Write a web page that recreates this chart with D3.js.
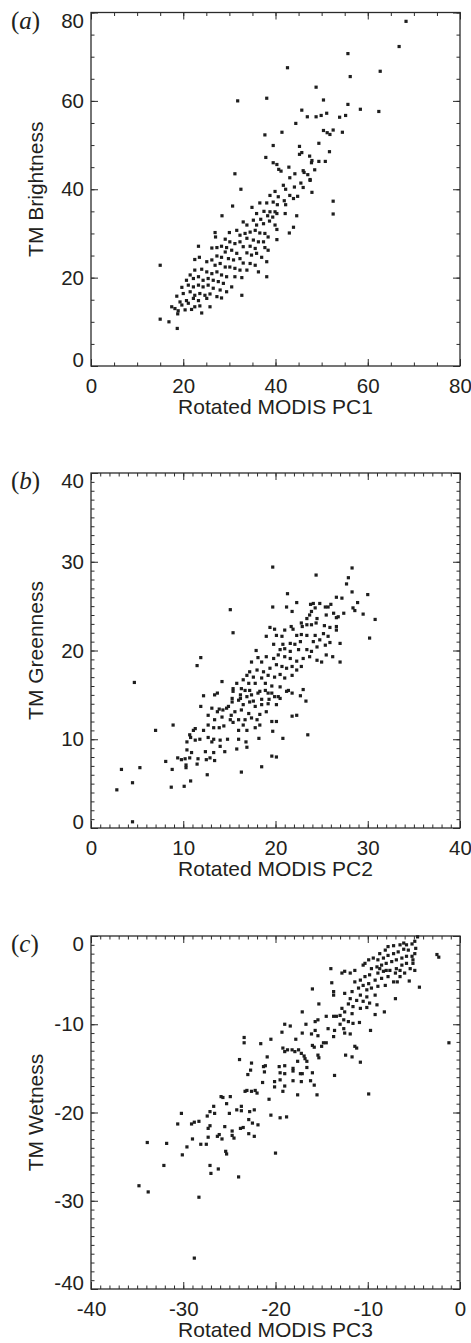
<!DOCTYPE html>
<html>
<head>
<meta charset="utf-8">
<script src="https://cdn.jsdelivr.net/npm/d3@7"></script>
<style>
body { margin: 0; background: #fff; }
svg { display: block; }
text { font-family: "Liberation Sans", Arial, Helvetica, sans-serif; fill: #231f20; }
</style>
</head>
<body>
<script>
var w = 471;
var h = 1343;

// ---- data: points, [x, y] ----
var brightPts = [
 [68.3,78.0],[66.8,72.3],[55.7,70.7],[62.7,66.7],[42.6,67.5],[56.2,65.5],[48.8,63.1],[31.8,60.0],[38.1,60.6],[50.4,60.2],
 [55.7,59.2],[58.4,58.1],[62.4,57.6],[45.7,57.9],[51.1,57.2],[46.9,56.4],[48.8,56.4],[49.9,56.7],[53.9,56.3],[55.2,56.7],
 [44.4,54.9],[37.7,52.3],[41.4,52.9],[50.4,53.3],[51.2,52.8],[51.8,52.4],[52.5,53.4],[54.5,52.9],[39.5,49.9],[45.2,49.7],
 [49.4,50.4],[51.7,48.5],[45.2,47.9],[45.7,48.3],[37.9,47.2],[47.4,47.5],[47.9,46.5],[47.8,46.0],[49.4,46.3],[50.8,46.3],
 [39.5,46.0],[40.3,45.6],[40.7,44.5],[41.2,44.1],[42.9,45.0],[31.2,43.5],[43.1,42.6],[44.2,43.5],[46.0,44.2],[46.2,43.8],
 [47.0,43.3],[48.5,44.4],[47.5,42.2],
 [32.5,40.0],[41.7,40.9],[42.2,40.0],[44.1,40.5],[45.5,41.4],[46.0,40.4],[47.5,42.0],[47.9,39.3],[43.1,38.6],[43.9,37.9],
 [44.8,38.4],[39.9,39.5],[38.8,38.6],[40.6,38.3],[41.9,37.4],[39.5,37.1],[36.6,36.9],[38.1,36.9],[40.4,36.5],[42.2,36.5],
 [52.5,37.3],[52.5,34.4],[30.7,36.2],[34.9,35.9],[28.4,34.0],[35.9,34.5],[37.5,35.0],[38.8,34.9],[39.9,34.9],[38.3,34.0],
 [39.4,33.7],[40.3,34.5],[42.1,34.5],[44.6,34.0],[36.8,33.2],[38.7,32.8],[35.2,33.0],[33.0,32.6],[33.8,31.9],[35.9,31.9],
 [37.4,32.2],[39.9,31.9],[43.9,31.4],[40.3,30.9],[43.0,30.1],[30.0,30.2],[26.9,30.2],[27.0,29.2],[31.6,30.7],[32.3,29.6],
 [33.4,30.0],[34.5,30.3],[35.6,30.7],[36.6,30.1],[37.7,30.0],[38.4,29.2],[40.3,28.6],[33.8,28.9],[35.2,28.5],[36.3,28.1],
 [37.4,28.1],[29.1,28.7],[30.1,28.1],[31.2,27.7],[32.3,28.1],[23.3,27.1],[26.2,26.7],[27.3,26.8],[28.3,27.1],[29.4,26.8],
 [30.5,26.2],[33.0,27.0],[34.5,27.1],[35.6,26.6],[37.7,26.8],[38.4,26.2],[29.1,25.8],[31.6,25.5],[33.8,25.6],[34.8,25.1],
 [35.9,25.5],[37.0,24.6],[38.1,23.6],[27.3,24.9],[28.3,24.6],[29.8,24.3],[30.9,24.0],[32.3,24.3],[33.0,23.3],[34.5,23.2],
 [35.6,22.8],[22.5,24.1],[23.5,24.6],[25.1,23.6],[26.2,24.0],[26.9,22.8],[28.0,23.2],[29.1,22.4],[30.1,22.4],[31.2,22.1],
 [32.3,21.7],[33.8,21.7],[36.3,21.3],[38.1,20.2],[15.0,22.8],[22.5,21.7],[24.0,21.9],[25.1,21.3],[26.2,20.9],[27.3,21.3],
 [28.3,20.6],[29.4,20.2],[31.2,20.2],[32.7,20.0],[21.5,20.6],[20.7,19.4],[22.2,19.8],[23.3,20.2],[24.3,19.4],[25.4,19.8],
 [26.5,19.4],[27.6,19.1],[28.7,18.7],[30.5,17.9],[19.7,17.8],[21.1,18.3],[22.2,17.9],[23.3,18.3],[24.3,17.9],[25.4,18.3],
 [26.5,17.6],[28.0,17.2],[29.4,16.8],[18.6,15.8],[20.0,16.4],[21.5,16.8],[22.5,16.0],[23.6,16.4],[24.7,16.0],[25.8,16.3],
 [27.3,15.7],[32.7,16.0],[28.3,15.4],[19.3,14.5],[20.7,14.8],[22.2,15.3],[23.3,14.8],[25.1,15.3],[17.5,13.4],[18.2,13.0],
 [19.7,13.8],[21.1,14.2],[22.5,13.4],[23.6,13.6],[25.8,13.4],[18.9,12.5],[20.4,12.7],[21.8,12.8],[24.0,12.0],[18.8,11.8],
 [15.0,10.6],[16.9,10.0],[18.7,8.5]
];

var greenPts = [
 [19.7,29.4],[24.4,28.5],[28.3,29.3],[27.9,28.2],[27.7,27.5],
 [28.3,26.6],[30.0,26.3],[28.9,25.4],[30.8,23.5],[30.2,21.4],[29.5,24.1],[28.4,24.8],[28.6,24.5],[27.2,25.9],[26.6,26.0],
 [26.0,25.2],[25.7,24.9],[25.4,24.9],[24.8,25.3],[24.1,25.3],[24.3,24.8],[23.8,25.2],[21.3,26.4],[19.7,24.9],[21.2,24.9],
 [21.8,24.4],[22.3,25.4],[23.9,24.4],[23.7,24.0],[23.4,23.6],[25.5,24.0],[26.3,24.2],[26.8,23.8],[27.4,24.2],[26.6,23.7],
 [24.5,23.6],[24.4,23.1],[23.9,22.9],[23.4,22.9],[22.8,23.1],[22.9,22.7],[25.3,22.8],[25.9,22.6],[26.6,22.3],[26.6,22.7],
 [21.7,22.7],[21.0,22.3],[21.9,22.4],[19.4,22.6],[19.9,22.4],[19.0,21.6],[20.1,21.7],[20.7,21.6],[22.3,21.7],[22.8,21.8],
 [23.4,21.7],[24.3,21.7],[25.2,21.9],[25.7,21.6],[24.8,21.2],[25.9,20.9],[27.0,20.8],[24.1,21.0],[22.7,21.0],[22.1,20.7],
 [21.6,20.8],[20.8,20.7],[19.8,20.7],[25.4,20.6],[24.5,20.4],[17.9,20.0],[20.5,20.1],[21.0,20.2],[21.6,19.9],[22.5,20.1],
 [23.4,20.1],[23.9,19.9],[25.5,19.5],[26.2,19.3],[27.0,18.7],[25.0,18.7],[24.5,18.9],[23.7,19.3],[23.0,19.1],[22.3,18.8],
 [21.6,19.1],[21.0,19.3],[20.3,19.5],[19.8,19.1],[19.0,19.3],[18.5,18.7],[18.1,19.2],[17.4,18.7],[20.1,18.4],[20.7,18.2],
 [21.2,18.0],[21.8,18.2],[22.3,17.8],[22.8,18.2],[19.4,18.0],[18.7,17.6],[18.0,17.8],[17.2,17.6],[16.9,17.2],[16.5,16.7],
 [17.6,17.0],[18.5,16.9],[19.2,17.2],[19.9,17.0],[20.5,17.3],[21.0,16.9],[21.8,17.2],[15.8,16.3],[17.1,16.3],[17.8,16.3],
 [18.9,16.3],[19.6,16.0],[20.5,15.9],[21.4,15.5],[15.4,15.7],[16.3,15.7],[17.2,15.5],[18.3,15.4],[19.2,15.2],[19.9,14.8],
 [23.0,15.6],[23.3,14.3],[15.3,14.6],[16.2,14.6],[16.9,14.8],[17.6,14.3],[18.5,14.5],[19.3,14.5],[20.5,14.6],[15.1,24.6],
 [15.4,22.0],
 [11.9,19.2],[11.5,18.3],[4.7,16.4],[14.2,16.5],[12.2,14.9],[13.4,15.0],[13.7,15.2],[11.9,13.7],[13.1,13.5],[12.7,12.7],
 [13.7,13.1],[13.9,13.4],[14.3,13.3],[14.7,13.5],[14.9,13.7],[14.2,12.5],[13.4,12.2],[15.1,12.2],[15.2,12.7],[7.0,11.0],
 [8.9,11.6],[11.1,11.0],[11.3,11.2],[12.2,11.0],[12.7,11.6],[13.3,11.3],[13.9,11.3],[14.4,11.5],[10.7,10.5],[10.8,10.2],
 [10.4,9.7],[11.8,10.0],[11.3,9.9],[12.7,10.2],[13.3,10.0],[13.1,9.7],[14.0,9.9],[14.8,10.0],[14.0,9.2],[14.5,8.6],
 [10.4,8.8],[10.9,8.5],[12.4,8.6],[13.3,8.5],[9.4,7.9],[9.8,7.7],[10.2,7.8],[10.7,7.9],[11.6,7.8],[12.5,7.7],
 [12.9,7.9],[13.4,7.6],[8.1,7.5],[10.3,7.1],[10.3,6.8],[11.5,7.2],[8.8,6.6],[5.3,6.8],[3.3,6.6],[12.6,6.0],
 [10.8,5.3],[10.1,4.7],[8.7,4.6],[4.5,5.1],[2.8,4.3],[4.5,0.7],[16.3,6.3],[18.5,6.9],[19.6,8.1],[20.1,8.0],
 [16.9,9.1],[15.8,8.9],[16.8,9.7],[16.0,10.0],[18.2,10.1],[20.8,10.1],[23.5,10.5],[19.7,10.9],[21.8,12.6],[22.3,12.7],
 [19.6,12.0],[20.1,12.0],[18.3,11.6],[17.8,11.3],[16.9,11.0],[16.0,11.0],[16.5,11.6],[15.4,11.9],[16.0,12.2],[16.7,12.2],
 [17.4,12.4],[18.0,12.2],[15.6,13.1],[16.3,13.3],[17.1,12.9],[18.3,12.8],[19.0,13.1],[15.3,14.2],[16.0,14.4],[16.5,13.9],
 [17.2,14.2],[17.8,13.7],[18.5,13.9],[19.2,14.0],[20.1,13.9],[15.4,15.4],[16.2,15.0],[16.7,15.5],[17.4,15.0],[18.1,15.2],
 [18.9,15.5],[19.6,15.2],[20.3,14.8],[21.2,15.4],[22.7,14.9],[21.8,15.2]
];

var wetPts = [
 [-4.6,-0.1],[-4.9,-0.6],[-2.5,-2.1],[-2.3,-2.4],[-1.2,-12.1],[-4.4,-5.8],[-5.5,-5.1],[-6.8,-5.2],[-7.0,-7.1],[-8.2,-8.6],
 [-9.2,-8.9],[-9.7,-10.7],[-10.8,-14.3],[-11.7,-13.7],[-12.4,-13.5],[-11.2,-12.7],[-11.4,-12.5],[-14.0,-3.7],[-13.9,-5.3],[-16.0,-6.0],
 [-17.1,-8.6],[-13.7,-6.3],[-13.7,-6.7],[-12.8,-4.2],[-12.5,-4.0],[-11.9,-4.2],[-11.4,-3.9],[-10.5,-3.3],[-10.3,-3.1],[-9.9,-2.7],
 [-9.4,-2.5],[-8.7,-2.0],[-8.1,-1.6],[-7.8,-1.2],[-7.2,-1.1],[-6.5,-1.0],[-6.1,-0.8],[-5.8,-1.0],[-5.2,-0.9],[-4.8,-1.4],
 [-4.9,-2.0],[-5.2,-2.3],[-5.1,-2.7],[-5.6,-1.6],[-6.1,-1.5],[-6.7,-1.8],[-7.2,-2.0],[-7.8,-2.2],[-8.3,-2.5],[-8.9,-2.7],
 [-5.8,-2.3],[-6.3,-2.5],[-6.9,-2.7],[-7.4,-2.9],[-8.0,-3.1],[-8.5,-3.3],[-9.0,-3.5],[-9.6,-3.7],[-5.8,-3.1],[-5.4,-3.7],
 [-6.3,-3.3],[-6.9,-3.7],[-7.6,-3.9],[-8.3,-4.0],[-8.9,-4.2],[-9.8,-4.4],[-10.3,-4.6],[-10.8,-5.0],[-11.4,-5.2],[-7.0,-4.2],
 [-7.8,-4.6],[-8.5,-4.8],[-9.2,-5.0],[-9.9,-5.4],[-10.5,-5.6],[-11.0,-5.9],[-8.9,-5.7],[-9.6,-5.9],[-10.1,-6.1],[-8.1,-5.6],
 [-11.7,-6.3],[-12.5,-6.5],[-10.8,-6.7],[-10.1,-6.9],[-9.2,-6.7],[-11.9,-7.1],[-11.2,-7.3],[-10.5,-7.4],[-9.8,-7.6],[-9.0,-7.8],
 [-12.1,-7.7],[-11.6,-8.0],[-10.8,-8.2],[-10.1,-8.1],[-12.8,-8.2],[-12.5,-8.6],[-13.0,-9.0],[-13.7,-9.1],[-13.4,-9.1],[-11.7,-8.8],
 [-12.6,-9.5],[-12.1,-9.7],[-11.6,-9.9],[-10.9,-9.8],[-13.0,-10.0],[-14.5,-9.1],[-15.3,-7.7],[-15.4,-9.5],[-15.7,-9.7],[-16.7,-10.0],
 [-14.3,-10.5],[-13.6,-10.7],[-12.6,-10.5],[-12.5,-11.0],[-11.9,-11.1],[-15.7,-10.7],[-16.1,-11.1],[-17.1,-11.0],[-15.4,-11.3],[-13.7,-11.4],
 [-14.8,-12.1],[-14.5,-12.1],[-16.0,-12.4],[-15.8,-12.6],[-15.0,-12.5],[-17.2,-13.3],[-16.9,-13.6],[-16.8,-13.9],[-16.6,-14.2],[-15.4,-13.5],
 [-15.3,-13.8],[-16.6,-14.9],[-5.1,-3.1],[-4.9,-3.9],[-6.0,-4.2],[-6.5,-4.6],[-7.2,-5.2],[-8.0,-3.9],[-8.7,-3.7],[-6.5,-3.9],
 [-19.0,-10.0],[-18.4,-10.2],[-19.3,-10.9],[-17.8,-11.7],[-20.5,-11.7],[-21.6,-12.2],[-23.4,-11.5],[-23.4,-12.1],[-19.2,-12.7],[-19.0,-13.1],
 [-18.7,-12.9],[-18.2,-12.9],[-17.9,-13.1],[-17.5,-12.9],[-20.9,-13.7],[-23.9,-14.0],[-17.6,-14.2],[-22.6,-14.4],[-21.3,-14.8],[-21.1,-14.7],
 [-22.7,-15.2],[-21.2,-15.4],[-23.0,-15.7],[-19.6,-14.8],[-19.0,-14.7],[-19.5,-15.5],[-19.0,-15.6],[-18.1,-15.0],[-18.1,-15.3],[-17.3,-15.6],
 [-17.1,-15.6],[-16.0,-15.5],[-13.6,-15.8],[-21.4,-16.6],[-20.1,-16.5],[-19.5,-16.3],[-19.0,-17.0],[-18.1,-16.4],[-17.2,-16.5],[-16.2,-16.4],
 [-15.8,-16.9],[-20.1,-17.1],[-19.2,-17.6],[-23.3,-17.6],[-23.1,-17.5],[-22.6,-17.6],[-22.2,-17.5],[-22.0,-17.8],[-17.6,-18.0],[-15.5,-18.0],
 [-9.9,-17.9],[-20.7,-18.5],[-25.9,-18.2],[-25.7,-18.3],[-24.9,-18.2],[-25.3,-19.0],[-26.7,-19.3],[-23.7,-19.3],[-24.2,-19.7],[-23.7,-19.8],
 [-22.3,-19.7],[-22.8,-19.9],[-27.1,-19.9],[-26.6,-20.1],[-27.4,-20.4],[-25.0,-20.1],[-30.2,-20.1],[-20.5,-20.3],[-19.5,-20.6],[-18.8,-20.5],
 [-22.9,-20.8],[-22.5,-21.2],[-21.9,-21.4],[-29.1,-21.3],[-28.8,-21.1],[-28.3,-21.0],[-30.6,-21.3],[-27.1,-21.5],[-27.3,-21.8],[-25.5,-21.6],
 [-24.7,-22.1],[-23.8,-21.8],[-23.5,-21.7],[-22.9,-22.4],[-22.3,-22.7],[-26.1,-22.5],[-26.3,-22.7],[-24.7,-22.6],[-24.5,-22.9],[-25.8,-23.0],
 [-27.3,-22.8],[-29.0,-23.0],[-28.1,-23.6],[-27.5,-23.6],[-33.9,-23.4],[-31.8,-23.5],[-29.6,-23.9],[-30.1,-24.8],[-25.4,-24.4],[-25.3,-24.7],
 [-20.0,-24.6],[-32.1,-26.0],[-27.1,-26.0],[-27.0,-26.9],[-26.2,-26.4],[-24.0,-27.3],[-34.8,-28.3],[-33.8,-29.0],[-28.3,-29.6],[-28.8,-36.5]
];

// axis ranges and tick labels
var brightTicks = [0, 20, 40, 60, 80];
var greenTicks = [0, 10, 20, 30, 40];
var wetTicks = [-40, -30, -20, -10, 0];

var panelLetters = ["a", "b", "c"];
var xTitles = ["Rotated MODIS PC1", "Rotated MODIS PC2", "Rotated MODIS PC3"];
var yTitles = ["TM Brightness", "TM Greenness", "TM Wetness"];

// ---- layout ----
var lp = 91, rp = 460;
var panels = [
  {top: 12.5, bottom: 366, pts: brightPts, ticks: brightTicks, minorStep: 5},
  {top: 473, bottom: 828, pts: greenPts, ticks: greenTicks, minorStep: 1},
  {top: 936, bottom: 1289, pts: wetPts, ticks: wetTicks, minorStep: 1}
];

var svg = d3.select("body").append("svg")
  .attr("width", w)
  .attr("height", h);

var ink = "#2b2b2b";
var label = function(d){ return String(d); };

panels.forEach(function(p, i){
  var lo = p.ticks[0], hi = p.ticks[p.ticks.length - 1];
  var minor = d3.range(lo, hi + 0.001, p.minorStep);

  var x = d3.scaleLinear().domain([lo, hi]).range([lp, rp]);
  var y = d3.scaleLinear().domain([lo, hi]).range([p.bottom, p.top]);

  var g = svg.append("g").attr("id", "panel-" + panelLetters[i]);

  // minor ticks on all four sides
  g.append("g").attr("transform", "translate(0," + p.bottom + ")")
    .call(d3.axisBottom(x).tickValues(minor).tickSize(-3.5).tickFormat(""));
  g.append("g").attr("transform", "translate(0," + p.top + ")")
    .call(d3.axisTop(x).tickValues(minor).tickSize(-3.5).tickFormat(""));
  g.append("g").attr("transform", "translate(" + lp + ",0)")
    .call(d3.axisLeft(y).tickValues(minor).tickSize(-3.5).tickFormat(""));
  g.append("g").attr("transform", "translate(" + rp + ",0)")
    .call(d3.axisRight(y).tickValues(minor).tickSize(-3.5).tickFormat(""));

  // major ticks
  g.append("g").attr("class", "xaxis").attr("transform", "translate(0," + p.bottom + ")")
    .call(d3.axisBottom(x).tickValues(p.ticks).tickSize(-7).tickPadding(12.5).tickFormat(label));
  g.append("g").attr("transform", "translate(0," + p.top + ")")
    .call(d3.axisTop(x).tickValues(p.ticks).tickSize(-7).tickFormat(""));
  var ly = g.append("g").attr("class", "yaxis").attr("transform", "translate(" + lp + ",0)")
    .call(d3.axisLeft(y).tickValues(p.ticks).tickSize(-7).tickPadding(7).tickFormat(label));
  g.append("g").attr("transform", "translate(" + rp + ",0)")
    .call(d3.axisRight(y).tickValues(p.ticks).tickSize(-7).tickFormat(""));

  g.selectAll(".domain").remove();
  g.selectAll(".tick line").attr("stroke", ink).attr("stroke-width", 1);
  g.selectAll(".tick text").attr("font-size", 20.5).attr("fill", "#231f20")
    .attr("font-family", "'Liberation Sans', Arial, sans-serif");

  // end labels on y pulled inside the frame, like the original
  ly.selectAll(".tick text").attr("y", function(d){
    if (d === lo) return -6;
    if (d === hi) return 8;
    return 0;
  });

  // frame
  g.append("rect")
    .attr("x", lp).attr("y", p.top)
    .attr("width", rp - lp).attr("height", p.bottom - p.top)
    .attr("fill", "none").attr("stroke", ink).attr("stroke-width", 1.3);

  // points
  g.append("g").selectAll("rect")
    .data(p.pts)
    .enter()
    .append("rect")
    .attr("x", function(d){ return x(d[0]) - 1.6; })
    .attr("y", function(d){ return y(d[1]) - 1.6; })
    .attr("width", 3.2)
    .attr("height", 3.2)
    .attr("fill", "#1e1e1e");

  // titles
  g.append("text")
    .attr("x", (lp + rp) / 2)
    .attr("y", p.bottom + 48)
    .attr("text-anchor", "middle")
    .attr("font-size", 21)
    .text(xTitles[i]);

  g.append("text")
    .attr("transform", "translate(43," + ((p.top + p.bottom) / 2) + ") rotate(-90)")
    .attr("text-anchor", "middle")
    .attr("font-size", 21)
    .text(yTitles[i]);

  // panel letter, italic letter in upright brackets
  var pl = g.append("text")
    .attr("x", 11)
    .attr("y", p.top + 16)
    .attr("font-size", 25)
    .style("font-family", "'Liberation Serif', 'Times New Roman', serif");
  pl.append("tspan").text("(");
  pl.append("tspan").attr("font-style", "italic").text(panelLetters[i]);
  pl.append("tspan").text(")");
});
</script>
</body>
</html>
